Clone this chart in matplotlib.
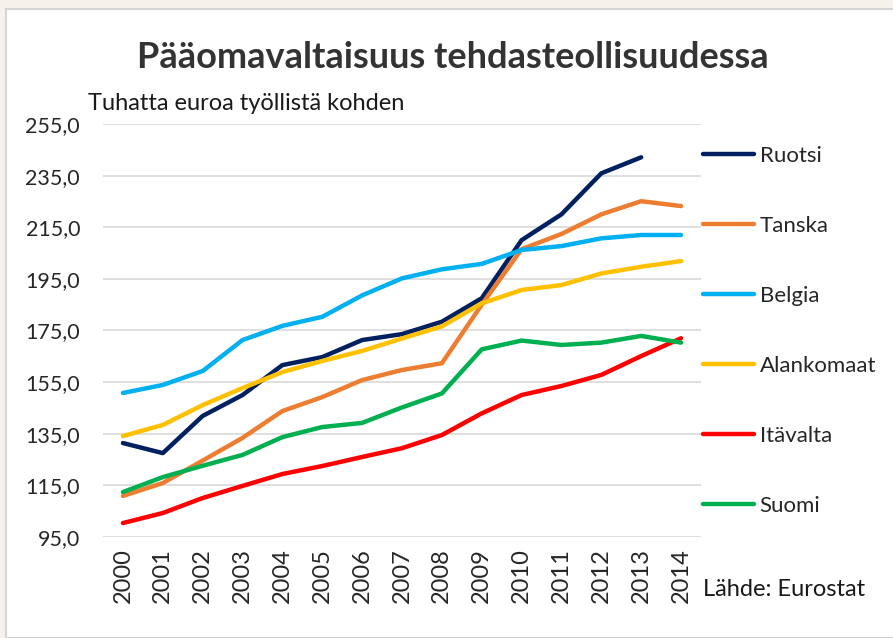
import numpy as np
import matplotlib
matplotlib.use('Agg')
import matplotlib.pyplot as plt
from matplotlib.patches import Rectangle

plt.rcParams['font.family'] = ['Lato', 'DejaVu Sans']

# data (thousand euros per employee)
years = [str(y) for y in range(2000, 2015)]
ruotsi = [131.4, 127.5, 141.9, 150.0, 161.6, 164.7, 171.3, 173.6, 178.4, 187.5, 210.0, 220.0, 235.9, 242.1, np.nan]
tanska = [110.9, 115.9, 124.6, 133.4, 143.8, 149.2, 155.8, 159.7, 162.3, 185.0, 206.5, 212.4, 220.0, 225.1, 223.2]
belgia = [150.8, 153.9, 159.3, 171.3, 176.8, 180.3, 188.6, 195.2, 198.7, 200.8, 206.2, 207.7, 210.7, 212.0, 212.0]
alankomaat = [134.1, 138.4, 146.1, 152.7, 158.9, 163.2, 167.1, 171.9, 176.6, 185.5, 190.7, 192.6, 197.1, 199.7, 201.9]
itavalta = [100.4, 104.3, 110.1, 114.8, 119.4, 122.5, 126.0, 129.4, 134.5, 142.9, 150.0, 153.5, 157.8, 165.1, 172.0]
suomi = [112.4, 118.2, 122.6, 126.8, 133.7, 137.6, 139.2, 145.2, 150.6, 167.7, 171.1, 169.4, 170.3, 172.9, 170.3]

series = [
    ('Ruotsi', ruotsi, '#002060'),
    ('Tanska', tanska, '#ED7D31'),
    ('Belgia', belgia, '#00B0F0'),
    ('Alankomaat', alankomaat, '#FFC000'),
    ('Itävalta', itavalta, '#FF0000'),
    ('Suomi', suomi, '#00B050'),
]
yticks = np.arange(95, 256, 20)

fig = plt.figure(figsize=(8.93, 6.38), dpi=100, facecolor='#f6f2eb')
# white chart panel with a thin grey frame
fig.patches.append(Rectangle((6 / 893, 0), 1, 1 - 9 / 638, transform=fig.transFigure,
                             facecolor='white', edgecolor='#d4d4d4', linewidth=1.5, zorder=-1))

ax = fig.add_axes([103 / 893, 101 / 638, 598 / 893, 413 / 638])
ax.set_facecolor('none')
x = np.arange(len(years))
for name, vals, col in series:
    ax.plot(x, vals, color=col, lw=3.2, label=name, solid_capstyle='round', solid_joinstyle='round')

ax.set_xlim(-0.5, len(years) - 0.5)
ax.set_ylim(95, 255)
ax.set_yticks(yticks)
ax.set_yticklabels([f'{v:.1f}'.replace('.', ',') for v in yticks], fontsize=15.5, color='#262626')
ax.set_xticks(x)
ax.set_xticklabels(years, rotation=90, fontsize=17, color='#262626')
ax.tick_params(length=0, pad=8)
ax.tick_params(axis='y', pad=16.5)
ax.grid(axis='y', color='#d9d9d9', lw=1.2)
ax.set_axisbelow(True)
for s in ax.spines.values():
    s.set_visible(False)

leg = ax.legend(loc='upper left', bbox_to_anchor=(703 / 893, 1 - 146 / 638), bbox_transform=fig.transFigure,
                frameon=False, fontsize=16, handlelength=2.3, handletextpad=0.25, labelspacing=2.25,
                borderaxespad=0, borderpad=0)
for t in leg.get_texts():
    t.set_color('#262626')

fig.text(453 / 893, 1 - 58 / 638, 'Pääomavaltaisuus tehdasteollisuudessa', ha='center', va='center',
         fontsize=26, fontweight='bold', color='#333333')
fig.text(88 / 893, 1 - 103 / 638, 'Tuhatta euroa työllistä kohden', ha='left', va='center',
         fontsize=17, color='#1a1a1a')
fig.text(703 / 893, 1 - 590 / 638, 'Lähde: Eurostat', ha='left', va='center', fontsize=17, color='#1a1a1a')

fig.savefig('out.png', dpi=100, facecolor=fig.get_facecolor())
